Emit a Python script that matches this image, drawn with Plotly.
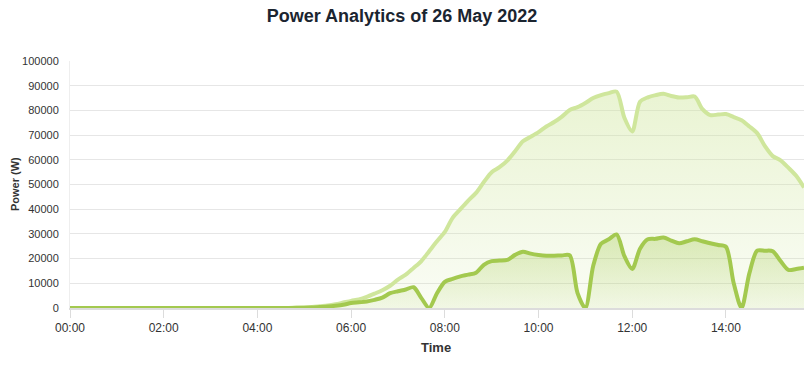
import plotly.graph_objects as go
import pandas as pd

# 10-minute samples from 00:00 to 15:40 on 26 May 2022
times = pd.date_range("2022-05-26 00:00", "2022-05-26 15:40", freq="10min")

# Light series (upper curve), W
total_power = [
    0, 0, 0, 0, 0, 0,                      # 00:00-00:50
    0, 0, 0, 0, 0, 0,                      # 01:00-01:50
    0, 0, 0, 0, 0, 0,                      # 02:00-02:50
    0, 0, 0, 0, 0, 0,                      # 03:00-03:50
    0, 0, 0, 0, 50, 100,                   # 04:00-04:50
    200, 400, 700, 1000, 1500, 2200,       # 05:00-05:50
    2900, 3500, 4500, 5800, 7200, 9000,    # 06:00-06:50
    11500, 13500, 16200, 19000, 23000, 27000,   # 07:00-07:50
    30800, 36500, 40000, 43500, 46600, 51000,   # 08:00-08:50
    55000, 57000, 59700, 63500, 67500, 69300,   # 09:00-09:50
    71200, 73500, 75300, 77500, 80200, 81300,   # 10:00-10:50
    83000, 85000, 86200, 87000, 87600, 77000,   # 11:00-11:50
    71500, 83500, 85300, 86200, 86700, 85800,   # 12:00-12:50
    85200, 85300, 85600, 80500, 78100, 78300,   # 13:00-13:50
    78500, 77300, 76000, 73500, 70800, 65500,   # 14:00-14:50
    61500, 59800, 56800, 53500, 48800,          # 15:00-15:40
]

# Darker series (lower curve), W
self_power = [
    0, 0, 0, 0, 0, 0,
    0, 0, 0, 0, 0, 0,
    0, 0, 0, 0, 0, 0,
    0, 0, 0, 0, 0, 0,
    0, 0, 0, 0, 30, 60,
    100, 200, 400, 600, 900, 1300,
    2000, 2300, 2600, 3300, 4200, 6000,
    6800, 7500, 8400, 4000, 0, 6000,
    10600, 11800, 12800, 13500, 14300, 17500,
    19000, 19200, 19500, 21500, 22800, 22000,
    21500, 21200, 21200, 21300, 21300, 6000,
    0, 17000, 26000, 27800, 29800, 21000,
    15800, 24000, 27800, 28000, 28500, 27300,
    26200, 27000, 27800, 27000, 26200, 25500,
    24800, 10000, 0, 14000, 23200, 23200,
    23000, 19000, 15400, 15800, 16300,
]

y_ticks = [0, 10000, 20000, 30000, 40000, 50000, 60000, 70000, 80000, 90000, 100000]
x_ticks = ["00:00", "02:00", "04:00", "06:00", "08:00", "10:00", "12:00", "14:00"]

LIGHT = "#cfe69c"
DARK = "#a3c94f"

fig = go.Figure()
fig.add_trace(go.Scatter(
    x=times, y=total_power, mode="lines",
    line=dict(color=LIGHT, width=4, shape="spline", smoothing=0.8),
    fill="tozeroy",
    fillgradient=dict(type="vertical", colorscale=[[0, "rgba(207,230,156,0.10)"], [1, "rgba(207,230,156,0.45)"]]),
    hoverinfo="skip", showlegend=False,
))
fig.add_trace(go.Scatter(
    x=times, y=self_power, mode="lines",
    line=dict(color=DARK, width=4, shape="spline", smoothing=0.8),
    fill="tozeroy",
    fillgradient=dict(type="vertical", colorscale=[[0, "rgba(163,201,79,0.10)"], [1, "rgba(163,201,79,0.35)"]]),
    hoverinfo="skip", showlegend=False,
))

tickvals = [pd.Timestamp("2022-05-26 " + t) for t in x_ticks]

plot_h = 373 - 61 - 65
plot_w = 804 - 70

fig.update_layout(
    width=804, height=373,
    margin=dict(l=70, r=0, t=61, b=65),
    paper_bgcolor="white", plot_bgcolor="white",
    font=dict(family="Liberation Sans, Arial, sans-serif", color="#333333"),
    title=dict(text="<b>Power Analytics of 26 May 2022</b>", x=0.5, xanchor="center",
               y=1 - 16 / 373, yanchor="middle",
               font=dict(size=18, color="#1b2530", family="Liberation Sans, Arial, sans-serif")),
    xaxis=dict(
        type="date",
        range=[pd.Timestamp("2022-05-26 00:00"), pd.Timestamp("2022-05-26 15:40")],
        tickvals=tickvals, ticktext=x_ticks,
        ticks="outside", ticklen=8, tickcolor="#dcdcdc", tickwidth=1,
        showline=True, linecolor="#dcdcdc", linewidth=2,
        showgrid=False, zeroline=False,
        tickfont=dict(size=12, color="#333333"),
        fixedrange=True,
    ),
    yaxis=dict(
        range=[0, 100000],
        tickvals=y_ticks, ticktext=[str(v) for v in y_ticks],
        showgrid=True, gridcolor="#e6e6e6", gridwidth=1,
        zeroline=False, showline=True, linecolor="#eeeeee", linewidth=1,
        ticks="outside", ticklen=8, tickcolor="rgba(0,0,0,0)",
        tickfont=dict(size=11, color="#333333"),
        fixedrange=True,
    ),
    annotations=[
        dict(text="<b>Power (W)</b>", x=(15 - 70) / plot_w, y=(308 - 184) / plot_h,
             xref="paper", yref="paper", xanchor="center", yanchor="middle",
             textangle=-90, showarrow=False, font=dict(size=11, color="#333333")),
        dict(text="<b>Time</b>", x=(436 - 70) / plot_w, y=(308 - 347) / plot_h,
             xref="paper", yref="paper", xanchor="center", yanchor="middle",
             showarrow=False, font=dict(size=13, color="#333333")),
    ],
)

fig.write_html("out.html")
